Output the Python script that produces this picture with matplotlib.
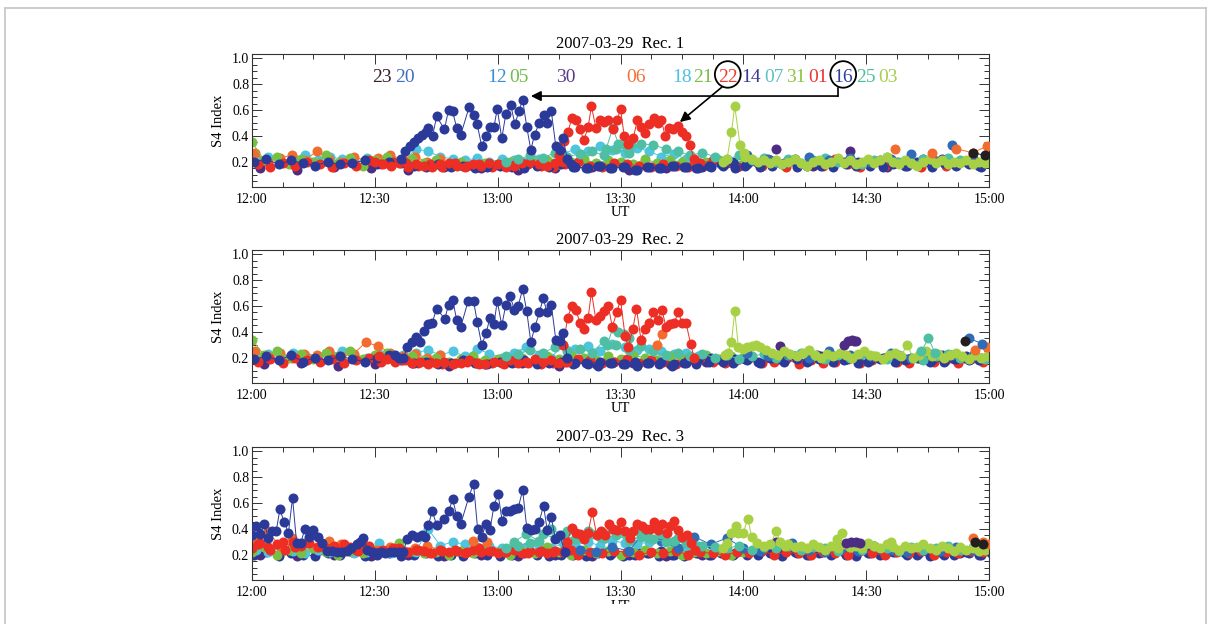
import matplotlib.pyplot as plt
import numpy as np
from matplotlib.patches import Ellipse, Rectangle
from matplotlib.lines import Line2D
from matplotlib.ticker import MultipleLocator

plt.rcParams['font.family'] = ['Liberation Serif', 'DejaVu Serif']

# colours used for the PRN traces
navy = '#2b3a98'
red = '#ec2e24'
orange = '#f36c2f'
green = '#78c043'
lime = '#a7d045'
cyan = '#4ec4de'
teal = '#4ebfa3'
purple = '#4d2d84'
blue = '#2f6bb6'
black = '#231f20'

# PRN labels on top of Rec. 1
prn_labels = ['23', '20', '12', '05', '30', '06', '18', '21', '22', '14', '07', '31', '01', '16', '25', '03']
prn_colors = ['#3a1f2e', '#3d6fc0', '#3b8fd8', '#6cbf47', '#5a3b8a', '#f27038', '#4cc3e0', '#7cbb44',
              '#ef3a2f', '#3b3894', '#58c2c4', '#8cc540', '#ec3434', '#2e3f9d', '#4fbf9b', '#a6cf4f']
prn_pos = [31.75, 37.37, 59.84, 65.21, 76.69, 93.78, 105.02, 110.15, 116.25, 121.87, 127.49,
           132.86, 138.23, 144.34, 149.96, 155.33]

time_ticks = [0, 30, 60, 90, 120, 150, 180]
time_labels = ['12:00', '12:30', '13:00', '13:30', '14:00', '14:30', '15:00']
titles = ['2007-03-29  Rec. 1', '2007-03-29  Rec. 2', '2007-03-29  Rec. 3']

# ---------------- Rec. 1 ----------------
t_blue1 = [36.4, 37.4, 38.6, 39.6, 40.6, 41.6, 42.5, 43.1, 44.1, 45.1, 47.0, 48.0, 49.0, 50.0, 51.0,
           53.0, 54.1, 55.0, 56.1, 57.2, 58.1, 59.1, 59.9, 61.0, 62.0, 63.2, 64.2, 65.2, 66.1, 67.1,
           68.1, 69.0, 70.2, 71.2, 72.1, 73.1, 74.2, 75.2, 76.0, 77.0, 78.0]
s4_blue1 = [0.22, 0.28, 0.32, 0.35, 0.38, 0.41, 0.43, 0.46, 0.40, 0.55, 0.45, 0.60, 0.59, 0.46, 0.41,
            0.62, 0.56, 0.49, 0.32, 0.40, 0.47, 0.47, 0.61, 0.38, 0.57, 0.64, 0.49, 0.59, 0.68, 0.47,
            0.29, 0.41, 0.50, 0.56, 0.50, 0.59, 0.32, 0.29, 0.38, 0.22, 0.18]
t_red1 = [75.0, 76.2, 77.2, 78.1, 79.1, 80.0, 81.1, 82.1, 82.9, 84.0, 85.0, 86.0, 87.0, 88.2, 89.2,
          90.0, 90.9, 91.9, 93.1, 94.1, 95.0, 96.1, 97.0, 98.2, 99.1, 100.0, 100.9, 101.9, 102.9,
          104.0, 105.0, 106.0, 107.0, 108.0]
s4_red1 = [0.25, 0.36, 0.43, 0.54, 0.52, 0.45, 0.37, 0.47, 0.63, 0.46, 0.52, 0.51, 0.52, 0.45, 0.52,
           0.61, 0.40, 0.34, 0.38, 0.52, 0.47, 0.42, 0.49, 0.54, 0.50, 0.52, 0.40, 0.46, 0.45,
           0.48, 0.43, 0.40, 0.33, 0.22]
t_lime1 = [115.0, 116.0, 117.1, 117.9, 119.2, 120.2]
s4_lime1 = [0.20, 0.22, 0.43, 0.63, 0.33, 0.27]
t_teal1 = [86.5, 88.1, 89.5, 91.0, 92.5]
s4_teal1 = [0.30, 0.46, 0.34, 0.33, 0.33]
t_orange1 = [157.0, 166.0, 172.0, 176.0, 179.5]
s4_orange1 = [0.30, 0.27, 0.30, 0.27, 0.32]
t_black1 = [176.0, 179.0]
s4_black1 = [0.27, 0.25]

bg1_navy = [0.20, 0.22, 0.18, 0.21, 0.19, 0.17, 0.20, 0.18, 0.19, 0.21, 0.18, 0.20, 0.19,
            0.17, 0.16, 0.18, 0.16, 0.17, 0.15, 0.16, 0.17, 0.16, 0.15, 0.17, 0.16, 0.18,
            0.16, 0.15, 0.17, 0.15, 0.16, 0.14, 0.16, 0.15, 0.17, 0.16, 0.15, 0.17,
            0.18, 0.20, 0.17, 0.19, 0.21, 0.18, 0.22, 0.17, 0.19, 0.18, 0.20, 0.17, 0.19, 0.21,
            0.18, 0.17, 0.20, 0.19, 0.22, 0.18, 0.20, 0.17, 0.19]
bg1_navy2 = [0.16, 0.15, 0.17, 0.15, 0.16, 0.14, 0.16, 0.15, 0.17, 0.16, 0.15, 0.16, 0.17, 0.15,
             0.18, 0.16, 0.17, 0.19, 0.16, 0.18, 0.17, 0.16, 0.18, 0.20, 0.17, 0.16, 0.19, 0.17,
             0.18, 0.16, 0.19, 0.17, 0.18, 0.16]
bg1_red = [0.18, 0.16, 0.19, 0.17, 0.20, 0.18, 0.16, 0.19, 0.17, 0.21, 0.18, 0.20, 0.19, 0.17, 0.18,
           0.16, 0.19, 0.17, 0.18, 0.16, 0.17, 0.19, 0.18, 0.17, 0.16, 0.18, 0.20, 0.17, 0.16, 0.19,
           0.18, 0.17, 0.16, 0.18, 0.17, 0.16, 0.19, 0.21, 0.18, 0.16, 0.20, 0.17, 0.19, 0.16, 0.18,
           0.20, 0.17, 0.22, 0.18, 0.16, 0.19, 0.17, 0.20, 0.18, 0.16, 0.21, 0.17, 0.19, 0.22, 0.20]
bg1_red2 = [0.20, 0.18, 0.17, 0.19, 0.16, 0.18, 0.17, 0.16, 0.18, 0.19, 0.17, 0.16, 0.18, 0.17,
            0.19, 0.18, 0.16, 0.17, 0.19, 0.20, 0.18, 0.17, 0.19, 0.20]
bg1_green = [0.35, 0.21, 0.24, 0.18, 0.22, 0.20, 0.25, 0.19, 0.23, 0.17, 0.21, 0.24, 0.20, 0.22,
             0.19, 0.21, 0.18, 0.20, 0.17, 0.19, 0.18, 0.20, 0.17, 0.19, 0.21, 0.18, 0.20, 0.22,
             0.19, 0.21, 0.20, 0.18, 0.22, 0.19, 0.21, 0.20, 0.18, 0.20, 0.21, 0.19, 0.18]
bg1_cyan = [0.22, 0.24, 0.20, 0.23, 0.25, 0.21, 0.24, 0.22, 0.20, 0.23, 0.21, 0.22, 0.20, 0.30,
            0.28, 0.24, 0.22, 0.21, 0.23, 0.20, 0.22, 0.21, 0.20, 0.22, 0.19, 0.26, 0.30, 0.28,
            0.32, 0.29, 0.27, 0.31, 0.28, 0.24, 0.26, 0.22, 0.20]
bg1_teal = [0.20, 0.22, 0.25, 0.23, 0.27, 0.24, 0.26, 0.28, 0.25, 0.30, 0.27, 0.34, 0.33, 0.30,
            0.28, 0.25, 0.27, 0.24, 0.22, 0.25, 0.21, 0.23, 0.20, 0.22, 0.19, 0.21, 0.23, 0.20,
            0.22, 0.18, 0.21, 0.24, 0.20, 0.19, 0.22, 0.20, 0.23, 0.21, 0.19, 0.22]
bg1_lime = [0.24, 0.22, 0.20, 0.21, 0.19, 0.21, 0.18, 0.20, 0.22, 0.19, 0.17, 0.20, 0.21, 0.18,
            0.20, 0.23, 0.19, 0.21, 0.18, 0.20, 0.22, 0.19, 0.21, 0.24, 0.20, 0.18, 0.21, 0.19,
            0.17, 0.20, 0.22, 0.19, 0.21, 0.18, 0.20, 0.19, 0.21, 0.18, 0.20, 0.19]
bg1_orange = [0.27, 0.20, 0.23, 0.25, 0.21, 0.28, 0.22, 0.20, 0.24, 0.21, 0.23, 0.25, 0.22, 0.24,
              0.20, 0.22]
bg1_purple = [0.15, 0.14, 0.16, 0.15, 0.14, 0.16, 0.15, 0.14, 0.15, 0.16, 0.14, 0.15, 0.16, 0.17,
              0.30, 0.17, 0.28, 0.16, 0.22, 0.20]
bg1_blue = [0.25, 0.22, 0.20, 0.24, 0.21, 0.23, 0.20, 0.22, 0.26, 0.21, 0.33, 0.23]

# ---------------- Rec. 2 ----------------
t_blue2 = [35.0, 36.0, 37.0, 37.9, 39.0, 40.0, 41.0, 42.0, 43.1, 44.0, 45.1, 47.1, 48.0, 49.0, 50.0,
           51.0, 52.8, 54.1, 55.0, 56.1, 57.2, 58.1, 59.1, 59.9, 61.0, 62.0, 63.0, 64.1, 65.0, 66.1,
           67.1, 68.1, 69.1, 70.2, 71.1, 72.1, 73.1, 74.2, 75.2, 76.0, 77.0]
s4_blue2 = [0.22, 0.20, 0.20, 0.28, 0.32, 0.36, 0.32, 0.41, 0.46, 0.47, 0.58, 0.50, 0.61, 0.65, 0.49,
            0.44, 0.64, 0.64, 0.48, 0.30, 0.39, 0.51, 0.46, 0.64, 0.45, 0.61, 0.68, 0.57, 0.60, 0.73,
            0.56, 0.32, 0.44, 0.55, 0.66, 0.55, 0.61, 0.34, 0.33, 0.39, 0.20]
t_red2 = [76.0, 77.1, 78.1, 79.1, 80.1, 81.1, 82.1, 82.9, 84.0, 85.0, 86.0, 87.0, 88.0, 89.1, 90.0,
          91.1, 91.9, 93.0, 93.9, 95.0, 96.0, 97.0, 98.0, 99.1, 100.1, 101.1, 102.1, 103.1, 104.1,
          105.1, 106.0, 107.1, 108.0]
s4_red2 = [0.30, 0.51, 0.60, 0.57, 0.47, 0.42, 0.51, 0.71, 0.49, 0.52, 0.56, 0.60, 0.44, 0.55, 0.65,
           0.37, 0.28, 0.42, 0.58, 0.34, 0.42, 0.47, 0.55, 0.49, 0.57, 0.44, 0.46, 0.47, 0.55,
           0.47, 0.47, 0.31, 0.20]
t_lime2 = [115.5, 116.2, 117.1, 117.9, 118.8, 120.0, 121.0, 122.2, 123.2]
s4_lime2 = [0.22, 0.24, 0.32, 0.56, 0.28, 0.27, 0.28, 0.29, 0.30]
t_teal2 = [86.8, 88.1, 89.5, 90.8, 92.0, 163.5, 165.2, 166.8]
s4_teal2 = [0.30, 0.43, 0.40, 0.38, 0.35, 0.25, 0.35, 0.24]
t_orange2 = [99.0, 100.1, 176.5, 179.5]
s4_orange2 = [0.30, 0.38, 0.26, 0.28]
t_purple2 = [144.5, 145.5, 146.5, 147.5]
s4_purple2 = [0.30, 0.33, 0.34, 0.33]
t_blue2b = [175.2, 178.2]
s4_blue2b = [0.35, 0.31]
t_black2 = [174.1]
s4_black2 = [0.33]

bg2_navy = [0.19, 0.21, 0.18, 0.22, 0.17, 0.20, 0.18, 0.21, 0.19, 0.17, 0.20, 0.22, 0.18,
            0.16, 0.17, 0.15, 0.16, 0.18, 0.16, 0.15, 0.17, 0.16, 0.18, 0.15, 0.16, 0.17,
            0.15, 0.16, 0.14, 0.16, 0.15, 0.17, 0.16, 0.15, 0.14, 0.16, 0.15, 0.17,
            0.18, 0.16, 0.19, 0.17, 0.20, 0.18, 0.21, 0.17, 0.19, 0.22, 0.18, 0.20, 0.17, 0.19,
            0.21, 0.18, 0.20, 0.17, 0.22, 0.19, 0.21, 0.18, 0.20]
bg2_navy2 = [0.16, 0.15, 0.17, 0.16, 0.15, 0.14, 0.16, 0.17, 0.15, 0.16, 0.18, 0.20, 0.17, 0.19,
             0.18, 0.16, 0.20, 0.17, 0.19, 0.18, 0.21, 0.17, 0.19, 0.16, 0.18, 0.20, 0.17, 0.19,
             0.21, 0.18, 0.17, 0.19, 0.18, 0.20]
bg2_red = [0.17, 0.19, 0.16, 0.20, 0.18, 0.17, 0.19, 0.16, 0.18, 0.20, 0.17, 0.19, 0.18, 0.16, 0.17,
           0.15, 0.16, 0.17, 0.15, 0.16, 0.15, 0.17, 0.16, 0.15, 0.16, 0.17, 0.19, 0.18, 0.16, 0.17,
           0.19, 0.16, 0.18, 0.17, 0.15, 0.18, 0.19, 0.17, 0.16, 0.18, 0.20, 0.16, 0.17, 0.19, 0.15,
           0.18, 0.16, 0.17, 0.19, 0.16, 0.18, 0.20, 0.17, 0.16, 0.19, 0.17, 0.18, 0.16, 0.19, 0.17]
bg2_red2 = [0.21, 0.19, 0.17, 0.18, 0.16, 0.17, 0.15, 0.16, 0.17, 0.15, 0.16, 0.18, 0.16, 0.15,
            0.17, 0.16, 0.18, 0.16, 0.17, 0.19, 0.17, 0.18, 0.16, 0.17]
bg2_green = [0.34, 0.22, 0.25, 0.20, 0.23, 0.19, 0.24, 0.21, 0.25, 0.19, 0.22, 0.24, 0.20, 0.21,
             0.18, 0.20, 0.17, 0.19, 0.21, 0.18, 0.19, 0.17, 0.20, 0.18, 0.21, 0.19, 0.22, 0.20,
             0.18, 0.21, 0.19, 0.22, 0.20, 0.18, 0.21, 0.19, 0.20, 0.22, 0.19, 0.21, 0.20]
bg2_cyan = [0.21, 0.23, 0.20, 0.24, 0.22, 0.21, 0.23, 0.25, 0.22, 0.20, 0.23, 0.21, 0.22, 0.24,
            0.26, 0.22, 0.25, 0.21, 0.27, 0.23, 0.20, 0.24, 0.28, 0.22, 0.20, 0.30, 0.27, 0.29,
            0.25, 0.31, 0.28, 0.26, 0.27, 0.25, 0.23, 0.24, 0.21]
bg2_teal = [0.21, 0.23, 0.26, 0.24, 0.28, 0.25, 0.27, 0.24, 0.33, 0.30, 0.26, 0.29, 0.25, 0.22,
            0.24, 0.21, 0.23, 0.20, 0.22, 0.19, 0.21, 0.23, 0.20, 0.22, 0.24, 0.21, 0.19, 0.22,
            0.20, 0.23, 0.21, 0.19, 0.22, 0.20, 0.18, 0.21, 0.23, 0.20, 0.22, 0.19]
bg2_lime = [0.28, 0.26, 0.24, 0.22, 0.25, 0.23, 0.21, 0.24, 0.26, 0.22, 0.20, 0.23, 0.21, 0.24,
            0.22, 0.20, 0.23, 0.25, 0.22, 0.21, 0.19, 0.22, 0.24, 0.21, 0.30, 0.20, 0.22, 0.25,
            0.21, 0.23, 0.20, 0.22, 0.24, 0.21, 0.19, 0.22, 0.20, 0.21]
bg2_orange = [0.25, 0.21, 0.24, 0.20, 0.23, 0.22, 0.25, 0.21, 0.23, 0.32, 0.29, 0.24, 0.21, 0.23,
              0.20, 0.22]
bg2_purple = [0.15, 0.16, 0.14, 0.15, 0.16, 0.14, 0.15, 0.16, 0.14, 0.15, 0.16, 0.15, 0.17, 0.20,
              0.29, 0.22, 0.33, 0.21, 0.19, 0.20]
bg2_blue = [0.24, 0.21, 0.23, 0.20, 0.25, 0.22, 0.21, 0.24, 0.20, 0.23, 0.22, 0.21]

# ---------------- Rec. 3 ----------------
t_blue3 = [0.0, 1.0, 2.0, 3.0, 4.0, 4.8, 5.9, 6.8, 7.9, 8.9, 9.9, 10.9, 11.9, 12.9, 14.0, 15.0,
           16.0, 17.0, 18.2, 19.5, 20.7, 22.0, 23.1, 24.3, 25.6, 26.4, 27.2, 28.2, 29.3, 30.5,
           31.6, 32.6, 33.7, 34.8, 35.9, 37.0, 37.8, 39.0, 40.2, 41.4, 42.2, 43.1, 44.0, 45.1,
           47.0, 48.1, 49.0, 50.0, 51.0, 53.0, 54.1, 55.1, 56.1, 57.2, 58.1, 59.1, 60.1, 61.1,
           62.0, 63.0, 64.0, 65.0, 66.1, 67.1, 68.1, 69.1, 70.1, 71.2, 72.1, 73.1, 74.1, 75.2, 76.4]
s4_blue3 = [0.35, 0.42, 0.36, 0.44, 0.33, 0.38, 0.38, 0.55, 0.45, 0.37, 0.64, 0.29, 0.29, 0.40,
            0.34, 0.39, 0.34, 0.29, 0.23, 0.23, 0.22, 0.22, 0.23, 0.25, 0.28, 0.30, 0.33, 0.24,
            0.22, 0.21, 0.22, 0.21, 0.22, 0.22, 0.22, 0.22, 0.32, 0.35, 0.34, 0.35, 0.34, 0.43,
            0.54, 0.43, 0.48, 0.54, 0.63, 0.50, 0.44, 0.65, 0.75, 0.40, 0.34, 0.44, 0.39, 0.58,
            0.67, 0.46, 0.54, 0.54, 0.55, 0.56, 0.70, 0.41, 0.39, 0.40, 0.45, 0.58, 0.39, 0.49,
            0.32, 0.35, 0.22]
t_red3 = [77.0, 78.1, 79.1, 80.1, 81.1, 82.1, 83.1, 84.2, 85.2, 86.2, 87.2, 88.2, 89.2, 90.0, 91.1,
          92.2, 93.1, 94.1, 95.2, 96.2, 97.2, 98.2, 99.2, 100.2, 101.3, 102.2, 103.1, 104.1,
          105.1, 106.2, 107.1, 108.2]
s4_red3 = [0.30, 0.41, 0.37, 0.36, 0.32, 0.37, 0.53, 0.35, 0.38, 0.35, 0.44, 0.40, 0.39, 0.45, 0.38,
           0.33, 0.38, 0.44, 0.42, 0.40, 0.40, 0.45, 0.39, 0.44, 0.37, 0.42, 0.46, 0.39,
           0.34, 0.35, 0.29, 0.24]
t_lime3 = [115.0, 116.0, 117.1, 118.2, 118.8, 120.0, 121.1, 122.0, 123.3, 125.0, 126.5, 128.1,
           129.0, 130.2]
s4_lime3 = [0.25, 0.29, 0.37, 0.42, 0.37, 0.37, 0.48, 0.34, 0.29, 0.27, 0.28, 0.38, 0.30, 0.27]
t_lime3b = [142.8, 144.0, 156.0]
s4_lime3b = [0.32, 0.37, 0.30]
t_orange3 = [54.0, 57.5, 176.0, 178.5, 180.0]
s4_orange3 = [0.31, 0.30, 0.33, 0.30, 0.28]
t_purple3 = [145.0, 146.2, 147.4, 148.5]
s4_purple3 = [0.29, 0.30, 0.30, 0.29]
t_black3 = [176.5, 178.5]
s4_black3 = [0.30, 0.28]

bg3_navy = [0.20, 0.22, 0.19, 0.21, 0.20, 0.19, 0.21, 0.20, 0.22, 0.19, 0.20, 0.21, 0.19,
            0.20, 0.21, 0.19, 0.20, 0.19, 0.21, 0.20, 0.19, 0.20, 0.21, 0.20, 0.19, 0.20,
            0.20, 0.19, 0.21, 0.20, 0.19, 0.20, 0.21, 0.19, 0.20, 0.19, 0.21, 0.20,
            0.21, 0.20, 0.22, 0.20, 0.21, 0.19, 0.22, 0.20, 0.21, 0.20, 0.22, 0.19, 0.21, 0.20,
            0.22, 0.21, 0.20, 0.19, 0.21, 0.20, 0.22, 0.20, 0.21]
bg3_navy2 = [0.21, 0.20, 0.22, 0.21, 0.20, 0.22, 0.21, 0.23, 0.20, 0.22, 0.21, 0.20, 0.22, 0.21,
             0.20, 0.22, 0.21, 0.23, 0.21, 0.20, 0.22, 0.21, 0.20, 0.22, 0.21, 0.23, 0.22, 0.20,
             0.21, 0.22, 0.20, 0.22, 0.21, 0.20]
bg3_red = [0.28, 0.24, 0.30, 0.26, 0.29, 0.27, 0.25, 0.28, 0.24, 0.27, 0.23, 0.25, 0.22, 0.24, 0.21,
           0.23, 0.24, 0.22, 0.25, 0.23, 0.22, 0.24, 0.21, 0.23, 0.22, 0.24, 0.20, 0.22, 0.21, 0.23,
           0.22, 0.20, 0.22, 0.21, 0.23, 0.20, 0.22, 0.21, 0.20, 0.22, 0.21, 0.23, 0.20, 0.22, 0.21,
           0.20, 0.22, 0.21, 0.20, 0.23, 0.21, 0.20, 0.22, 0.21, 0.23, 0.20, 0.22, 0.21, 0.23, 0.22]
bg3_red2 = [0.25, 0.29, 0.26, 0.28, 0.24, 0.30, 0.27, 0.29, 0.26, 0.25, 0.27, 0.24, 0.26, 0.23,
            0.25, 0.22, 0.24, 0.23, 0.25, 0.22, 0.24, 0.23, 0.21, 0.24, 0.22, 0.23, 0.21, 0.24,
            0.22, 0.23, 0.21, 0.22, 0.24, 0.21, 0.23, 0.22, 0.21, 0.23, 0.22, 0.24]
bg3_green = [0.22, 0.26, 0.20, 0.24, 0.21, 0.25, 0.22, 0.20, 0.23, 0.21, 0.24, 0.22, 0.29, 0.23,
             0.21, 0.22, 0.20, 0.23, 0.21, 0.25, 0.22, 0.20, 0.23, 0.21, 0.26, 0.22, 0.20, 0.24,
             0.21, 0.23, 0.20, 0.22, 0.24, 0.21, 0.23, 0.20, 0.22, 0.21, 0.23, 0.20, 0.22]
bg3_cyan = [0.24, 0.22, 0.25, 0.23, 0.21, 0.24, 0.22, 0.23, 0.21, 0.22, 0.29, 0.21, 0.23, 0.22,
            0.40, 0.27, 0.30, 0.28, 0.26, 0.27, 0.25, 0.28, 0.26, 0.27, 0.25, 0.29, 0.28, 0.30,
            0.27, 0.31, 0.29, 0.28, 0.30, 0.32, 0.29, 0.27, 0.26]
bg3_teal = [0.25, 0.27, 0.29, 0.36, 0.33, 0.38, 0.34, 0.36, 0.33, 0.35, 0.31, 0.34, 0.32, 0.30,
            0.33, 0.29, 0.27, 0.26, 0.25, 0.27, 0.24, 0.26, 0.25, 0.27, 0.24, 0.26, 0.25, 0.23,
            0.26, 0.24, 0.27, 0.25, 0.23, 0.26, 0.24, 0.25, 0.27, 0.24, 0.26, 0.25]
bg3_teal2 = [0.30, 0.36, 0.31, 0.40, 0.35, 0.32, 0.38, 0.34, 0.40, 0.37, 0.39, 0.33, 0.36, 0.31,
             0.29, 0.27]
bg3_lime = [0.28, 0.26, 0.27, 0.25, 0.28, 0.26, 0.24, 0.27, 0.25, 0.28, 0.26, 0.27, 0.25, 0.29,
            0.27, 0.25, 0.28, 0.26, 0.24, 0.27, 0.25, 0.26, 0.28, 0.25, 0.24, 0.27, 0.25, 0.23,
            0.26, 0.24, 0.25, 0.23, 0.24]
bg3_orange = [0.30, 0.38, 0.27, 0.33, 0.29, 0.26, 0.31, 0.28, 0.25, 0.27, 0.24, 0.26, 0.23, 0.25,
              0.27, 0.24]
bg3_purple = [0.20, 0.19, 0.20, 0.19, 0.20, 0.19, 0.20, 0.19, 0.20, 0.19, 0.20, 0.19, 0.20, 0.23,
              0.30, 0.24, 0.29, 0.22, 0.25, 0.21]
bg3_blue = [0.24, 0.22, 0.26, 0.23, 0.38, 0.31, 0.25, 0.34, 0.28, 0.33, 0.25, 0.23, 0.27, 0.29,
            0.24, 0.22, 0.25, 0.23, 0.27, 0.24, 0.22, 0.25, 0.23, 0.26, 0.24]

# (colour, first minute, step in minutes, values), bottom layer first
grid1 = [(purple, 2, 9, bg1_purple), (cyan, 1, 3, bg1_cyan), (orange, 0.8, 3, bg1_orange),
         (green, 0, 3, bg1_green), (red, 1.5, 3, bg1_red), (navy, 0.5, 3, bg1_navy),
         (navy, 79, 3, bg1_navy2), (red, 30, 2, bg1_red2), (teal, 62, 3, bg1_teal),
         (blue, 121, 5, bg1_blue), (lime, 120.5, 1.5, bg1_lime)]
grid2 = [(purple, 3, 9, bg2_purple), (cyan, 1, 3, bg2_cyan), (orange, 0.8, 3, bg2_orange),
         (green, 0, 3, bg2_green), (red, 1.5, 3, bg2_red), (navy, 0.5, 3, bg2_navy),
         (navy, 79, 3, bg2_navy2), (red, 31, 2, bg2_red2), (teal, 62, 3, bg2_teal),
         (blue, 121, 5, bg2_blue), (lime, 124, 1.5, bg2_lime)]
grid3 = [(purple, 2, 9, bg3_purple), (navy, 0.5, 3, bg3_navy), (navy, 79, 3, bg3_navy2),
         (cyan, 1, 3, bg3_cyan), (green, 0, 3, bg3_green), (orange, 0.8, 3, bg3_orange),
         (red, 1.5, 3, bg3_red), (red, 0, 2, bg3_red2), (blue, 80, 4, bg3_blue),
         (teal, 62, 3, bg3_teal), (teal, 64, 3, bg3_teal2), (lime, 131, 1.5, bg3_lime)]

# (colour, times, values) drawn on top
top1 = [(teal, t_teal1, s4_teal1), (orange, t_orange1, s4_orange1), (black, t_black1, s4_black1),
        (lime, t_lime1, s4_lime1), (red, t_red1, s4_red1), (navy, t_blue1, s4_blue1)]
top2 = [(teal, t_teal2, s4_teal2), (orange, t_orange2, s4_orange2), (purple, t_purple2, s4_purple2),
        (blue, t_blue2b, s4_blue2b), (black, t_black2, s4_black2), (lime, t_lime2, s4_lime2),
        (red, t_red2, s4_red2), (navy, t_blue2, s4_blue2)]
top3 = [(orange, t_orange3, s4_orange3), (purple, t_purple3, s4_purple3), (black, t_black3, s4_black3),
        (lime, t_lime3b, s4_lime3b), (lime, t_lime3, s4_lime3), (red, t_red3, s4_red3),
        (navy, t_blue3, s4_blue3)]


def trace(ax, t, v, color, z):
    t = np.asarray(t, float)
    v = np.asarray(v, float)
    ax.plot(t, v, 'o', color=color, ms=7.2, mew=0, zorder=z)
    # thin joining line, broken where the satellite was not tracked
    gaps = np.where(np.diff(t) > 4)[0] + 1
    for seg_t, seg_v in zip(np.split(t, gaps), np.split(v, gaps)):
        if len(seg_t) > 1:
            ax.plot(seg_t, seg_v, '-', color=color, lw=0.7, zorder=z)


fig = plt.figure(figsize=(12.11, 6.24), dpi=100)

# grey frame round the figure
for xs, ys in [([5, 5], [0, 616]), ([5, 1206], [616, 616]), ([1206, 1206], [616, 0])]:
    fig.add_artist(Line2D(np.array(xs) / 1211, np.array(ys) / 624, color='#c9c9c9', lw=1.3))

bottoms = [1 - 187 / 624, 1 - 383 / 624, 1 - 580 / 624]
axes = []
for i, (grid, top) in enumerate([(grid1, top1), (grid2, top2), (grid3, top3)]):
    ax = fig.add_axes([252 / 1211, bottoms[i], 737 / 1211, 133 / 624])
    for color, t0, dt, vals in grid:
        trace(ax, t0 + dt * np.arange(len(vals)), vals, color, 2)
    for color, t, vals in top:
        trace(ax, t, vals, color, 3)
    ax.set_xlim(0, 180)
    ax.set_ylim(0.005, 1.033)
    ax.set_xticks(time_ticks)
    ax.set_xticklabels(time_labels)
    ax.set_yticks([0.2, 0.4, 0.6, 0.8, 1.0])
    ax.set_yticklabels(['0.2', '0.4', '0.6', '0.8', '1.0'])
    ax.xaxis.set_minor_locator(MultipleLocator(7.5))
    ax.yaxis.set_minor_locator(MultipleLocator(0.05))
    ax.tick_params(which='both', direction='in', top=True, right=True, labelsize=10,
                   color='#333333', width=0.7)
    ax.tick_params(which='major', length=7)
    ax.tick_params(which='minor', length=3.5)
    ax.tick_params(axis='y', pad=2)
    ax.tick_params(axis='x', pad=4)
    for s in ax.spines.values():
        s.set_color('#333333')
        s.set_linewidth(0.8)
    ax.set_title(titles[i], fontsize=12, pad=4)
    fig.text(218 / 1211, bottoms[i] + 0.5 * 133 / 624, 'S4 Index', rotation=90,
             ha='center', va='center', fontsize=10.5)
    axes.append(ax)

for y in [213, 409, 607]:
    fig.text(620 / 1211, 1 - y / 624, 'UT', ha='center', va='center', fontsize=10.5)
# the bottom of the original is cut off
fig.add_artist(Rectangle((6 / 1211, 0), 1199 / 1211, 20 / 624, transform=fig.transFigure,
                         facecolor='white', edgecolor='none', zorder=10))

# PRN labels, circles and arrows on Rec. 1
ax1 = axes[0]
for lab, col, x in zip(prn_labels, prn_colors, prn_pos):
    ax1.text(x, 0.82, lab, color=col, fontsize=14, ha='center', va='baseline')
for x in [116.2, 144.4]:
    ax1.add_patch(Ellipse((x, 0.875), 6.3, 0.205, fill=False, ec='black', lw=1.3, clip_on=False))
ax1.annotate('', xy=(104.5, 0.507), xytext=(114.8, 0.778), annotation_clip=False,
             arrowprops=dict(arrowstyle='-|>', color='black', lw=1.2, mutation_scale=15,
                             shrinkA=0, shrinkB=0))
ax1.plot([143.1, 143.1], [0.770, 0.708], color='black', lw=1.2, clip_on=False)
ax1.annotate('', xy=(68.1, 0.708), xytext=(143.1, 0.708), annotation_clip=False,
             arrowprops=dict(arrowstyle='-|>', color='black', lw=1.2, mutation_scale=15,
                             shrinkA=0, shrinkB=0))

fig.savefig('out.png', dpi=100)
